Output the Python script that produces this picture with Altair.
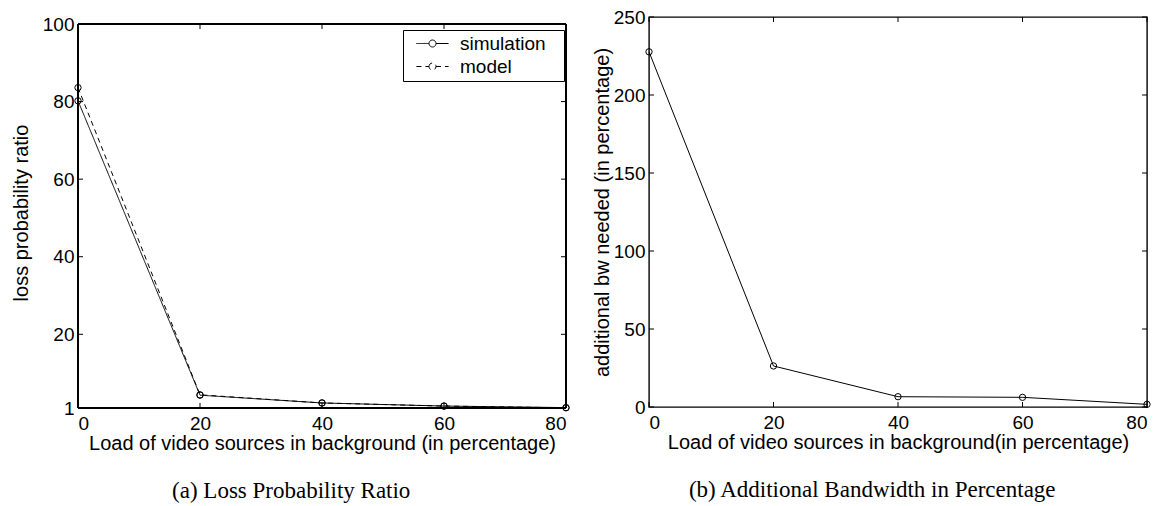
import altair as alt
import pandas as pd

# ---- data ----
load = [0, 20, 40, 60, 80]
simulation = [80.2, 4.3, 2.3, 1.5, 1.1]
model = [83.6, 4.4, 2.3, 1.5, 1.05]
bw_needed = [227.7, 26.3, 6.6, 6.2, 1.7]

series_names = ["simulation", "model"]
x_ticks = [0, 20, 40, 60, 80]
y_ticks_a = [1, 20, 40, 60, 80, 100]
y_ticks_b = [0, 50, 100, 150, 200, 250]

title_x_a = "Load of video sources in background (in percentage)"
title_x_b = "Load of video sources in background(in percentage)"
title_y_a = "loss probability ratio"
title_y_b = "additional bw needed (in percentage)"
caption_a = "(a) Loss Probability Ratio"
caption_b = "(b) Additional Bandwidth in Percentage"

# ---- styling ----
FONT = "Liberation Sans"
SERIF = "Liberation Serif"
WA, HA = 488, 391      # left panel view (frame starts TOP_A px below view top)
TOP_A = 7
WB, HB = 498, 390
TL = 5                 # inward tick length
FRAME_W = 1.4

df_a = pd.DataFrame(
    {
        "load": load * 2,
        "value": simulation + model,
        "series": ["simulation"] * len(load) + ["model"] * len(load),
    }
)
df_b = pd.DataFrame({"load": load, "value": bw_needed})


def x_axis(title):
    return alt.Axis(
        title=title, values=x_ticks, ticks=False, domain=False, grid=False,
        labelFont=FONT, labelFontSize=19, labelColor="black", labelPadding=6,
        titleFont=FONT, titleFontSize=20, titleFontWeight="normal",
        titleColor="black", titlePadding=0,
    )


def y_axis(title, values, title_pad):
    return alt.Axis(
        title=title, values=values, ticks=False, domain=False, grid=False,
        labelFont=FONT, labelFontSize=19, labelColor="black", labelPadding=4,
        titleFont=FONT, titleFontSize=20, titleFontWeight="normal",
        titleColor="black", titlePadding=title_pad,
    )


def caption(text):
    return alt.TitleParams(
        text=text, orient="bottom", anchor="middle", frame="bounds",
        font=SERIF, fontSize=23, fontWeight="normal", color="black", offset=27,
    )


rule = dict(color="black", strokeWidth=1)
frame = dict(color="black", strokeWidth=FRAME_W)

# legend symbol: short line with a small open circle in the middle
SYMBOL = ("M-2.3,0L-0.5,0M0.5,0L2.3,0"
          "M-0.5,0A0.5,0.5,0,1,1,0.5,0A0.5,0.5,0,1,1,-0.5,0Z")

xs = alt.Scale(domain=[x_ticks[0], x_ticks[-1]], nice=False, zero=False)
ymax_a = y_ticks_a[-1] + TOP_A * (y_ticks_a[-1] - y_ticks_a[0]) / (HA - TOP_A)
ys_a = alt.Scale(domain=[y_ticks_a[0], ymax_a], nice=False, zero=False)
ys_b = alt.Scale(domain=[y_ticks_b[0], y_ticks_b[-1]], nice=False)

# ---------- panel (a) ----------
line_a = alt.Chart(df_a).mark_line(color="black", strokeWidth=1).encode(
    x=alt.X("load:Q", scale=xs, axis=x_axis(title_x_a)),
    y=alt.Y("value:Q", scale=ys_a, axis=y_axis(title_y_a, y_ticks_a, 11)),
    strokeDash=alt.StrokeDash(
        "series:N",
        scale=alt.Scale(domain=series_names, range=[[1, 0], [5, 4]]),
        legend=alt.Legend(
            title=None, orient="none", legendX=WA - 163, legendY=TOP_A + 6,
            direction="vertical", symbolType=SYMBOL, symbolSize=196,
            symbolOffset=16, symbolStrokeWidth=1, symbolStrokeColor="black",
            symbolFillColor="white", labelFont=FONT, labelFontSize=19,
            labelColor="black", labelOffset=18,
            labelExpr="datum.label + '\u2800'",
            strokeColor="black", fillColor="white",
            padding=4, rowPadding=3, cornerRadius=0,
        ),
    ),
    order="load:Q",
)
pts_a = alt.Chart(df_a).mark_point(
    shape="circle", filled=False, color="black", size=40, strokeWidth=1, opacity=1
).encode(x="load:Q", y="value:Q", detail="series:N")

ytop = alt.datum(y_ticks_a[-1])
dxa = pd.DataFrame({"load": x_ticks})
dya = pd.DataFrame({"value": y_ticks_a})
frame_a = [
    alt.Chart(dxa).mark_rule(**frame).encode(
        x=alt.value(0), x2=alt.value(WA), y=ytop),
    alt.Chart(dxa).mark_rule(**frame).encode(
        x=alt.value(0), x2=alt.value(WA), y=alt.value(HA)),
    alt.Chart(dxa).mark_rule(**frame).encode(
        x=alt.value(0), y=ytop, y2=alt.value(HA)),
    alt.Chart(dxa).mark_rule(**frame).encode(
        x=alt.value(WA), y=ytop, y2=alt.value(HA)),
]
ticks_a = [
    alt.Chart(dxa).mark_rule(**rule).encode(
        x="load:Q", y=alt.value(HA - TL), y2=alt.value(HA)),
    alt.Chart(dxa).mark_rule(**rule, y2Offset=TL).encode(
        x="load:Q", y=ytop, y2=ytop),
    alt.Chart(dya).mark_rule(**rule).encode(
        y="value:Q", x=alt.value(0), x2=alt.value(TL)),
    alt.Chart(dya).mark_rule(**rule).encode(
        y="value:Q", x=alt.value(WA - TL), x2=alt.value(WA)),
]

chart_a = alt.layer(line_a, pts_a, *ticks_a, *frame_a).properties(
    width=WA, height=HA, title=caption(caption_a),
    view=alt.ViewBackground(stroke="transparent"),
)

# ---------- panel (b) ----------
line_b = alt.Chart(df_b).mark_line(color="black", strokeWidth=1).encode(
    x=alt.X("load:Q", scale=xs, axis=x_axis(title_x_b)),
    y=alt.Y("value:Q", scale=ys_b, axis=y_axis(title_y_b, y_ticks_b, 1)),
)
pts_b = alt.Chart(df_b).mark_point(
    shape="circle", filled=False, color="black", size=40, strokeWidth=1, opacity=1
).encode(x="load:Q", y="value:Q")

dxb = pd.DataFrame({"load": x_ticks})
dyb = pd.DataFrame({"value": y_ticks_b})
ticks_b = [
    alt.Chart(dxb).mark_rule(**rule).encode(
        x="load:Q", y=alt.value(HB - TL), y2=alt.value(HB)),
    alt.Chart(dxb).mark_rule(**rule).encode(
        x="load:Q", y=alt.value(0), y2=alt.value(TL)),
    alt.Chart(dyb).mark_rule(**rule).encode(
        y="value:Q", x=alt.value(0), x2=alt.value(TL)),
    alt.Chart(dyb).mark_rule(**rule).encode(
        y="value:Q", x=alt.value(WB - TL), x2=alt.value(WB)),
]

chart_b = alt.layer(line_b, pts_b, *ticks_b).properties(
    width=WB, height=HB, title=caption(caption_b),
    view=alt.ViewBackground(stroke="black", strokeWidth=FRAME_W),
)

chart = (
    alt.hconcat(chart_a, chart_b, spacing=19)
    .resolve_scale(x="independent", y="independent", strokeDash="independent")
    .properties(padding={"left": 2, "top": -1, "right": 0, "bottom": 0})
    .configure(background="white")
)

chart.save("out.html", embed_options={"renderer": "svg", "actions": False})
